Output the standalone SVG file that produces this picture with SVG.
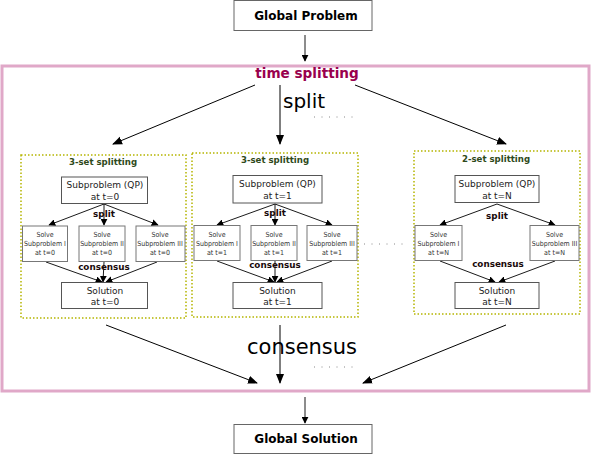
<svg xmlns="http://www.w3.org/2000/svg" width="592" height="455" viewBox="0 0 592 455">
<defs>
<marker id="ah" viewBox="0 0 10 10" refX="9" refY="5" markerWidth="7" markerHeight="7" markerUnits="userSpaceOnUse" orient="auto"><path d="M0,0 L10,5 L0,10 z" fill="#000"/></marker>
<marker id="ahL" viewBox="0 0 10 10" refX="9" refY="5" markerWidth="10" markerHeight="10" markerUnits="userSpaceOnUse" orient="auto"><path d="M0,1 L10,5 L0,9 z" fill="#000"/></marker>
<style>
text{font-family:"DejaVu Sans","Liberation Sans",sans-serif;fill:#000}
.box{fill:#fff;stroke:#555;stroke-width:1}
.sbox{fill:#fff;stroke:#777;stroke-width:1}
.big{fill:#fff;stroke:#666;stroke-width:1}
.grp{fill:none;stroke:#b5b500;stroke-width:1.5;stroke-dasharray:1.5,2}
.c{fill:none;stroke:#000;stroke-width:0.9;marker-end:url(#ah)}
.C{fill:none;stroke:#000;stroke-width:1;marker-end:url(#ahL)}
.ttl{font-size:12px;font-weight:bold}
.gt{font-size:8.6px;font-weight:bold;fill:#2f4a1a}
.sp{font-size:9px;fill:#222}
.sm{font-size:7px;font-stretch:condensed;font-family:"DejaVu Sans Condensed","DejaVu Sans",sans-serif;fill:#333}
.lb{font-size:8.8px;font-weight:bold;fill:#1a0a0a}
.dots{fill:none;stroke:#888;stroke-width:1;stroke-dasharray:1,6.5}
</style>
</defs>
<rect x="2" y="66" width="587" height="325" fill="none" stroke="#e0a8c8" stroke-width="3"/>
<text x="307" y="78" text-anchor="middle" style="font-size:13.6px;font-weight:bold;fill:#99004d">time splitting</text>
<text x="283" y="108" style="font-size:20px">split</text>
<text x="247" y="354" style="font-size:21px">consensus</text>
<line x1="314" y1="117" x2="356" y2="117" class="dots"/>
<line x1="314" y1="367" x2="356" y2="367" class="dots"/>
<line x1="364" y1="244" x2="406" y2="244" class="dots"/>

<g id="connectors">
<line x1="305" y1="35" x2="305" y2="61" class="c"/>
<line x1="255" y1="85" x2="113" y2="144" class="C"/>
<line x1="280" y1="85" x2="280" y2="144" class="C"/>
<line x1="355" y1="85" x2="506" y2="144" class="C"/>
<line x1="106" y1="325" x2="257" y2="383" class="C"/>
<line x1="280" y1="325" x2="280" y2="383" class="C"/>
<line x1="506" y1="325" x2="363" y2="383" class="C"/>
<line x1="305" y1="397" x2="305" y2="423" class="c"/>
<!-- left group -->
<line x1="104" y1="204" x2="49" y2="225" class="c"/>
<line x1="104" y1="204" x2="104" y2="225" class="c"/>
<line x1="104" y1="204" x2="158" y2="225" class="c"/>
<line x1="46" y1="262" x2="102" y2="282" class="c"/>
<line x1="104" y1="262" x2="103" y2="282" class="c"/>
<line x1="157" y1="262" x2="106" y2="282" class="c"/>
<!-- middle group -->
<line x1="275" y1="204" x2="217" y2="225" class="c"/>
<line x1="275" y1="204" x2="275" y2="225" class="c"/>
<line x1="275" y1="204" x2="332" y2="225" class="c"/>
<line x1="217" y1="261" x2="274" y2="282" class="c"/>
<line x1="275" y1="261" x2="275" y2="282" class="c"/>
<line x1="332" y1="261" x2="277" y2="282" class="c"/>
<!-- right group -->
<line x1="497" y1="204" x2="440" y2="225" class="c"/>
<line x1="497" y1="204" x2="555" y2="225" class="c"/>
<line x1="440" y1="261" x2="495" y2="282" class="c"/>
<line x1="555" y1="261" x2="499" y2="282" class="c"/>
</g>

<g id="global-problem">
<rect x="234" y="0.5" width="138" height="30" class="big"/>
<text x="306" y="20" text-anchor="middle" class="ttl">Global Problem</text>
</g>
<g id="global-solution">
<rect x="234" y="424.5" width="138" height="29" class="big"/>
<text x="306" y="443" text-anchor="middle" class="ttl">Global Solution</text>
</g>

<g id="group-t0">
<rect x="21" y="155" width="165" height="163" class="grp"/>
<text x="103" y="165" text-anchor="middle" class="gt">3-set splitting</text>
</g>
<g id="sub-t0"><rect x="61.5" y="177" width="86" height="26.5" class="box"/><text x="105" y="188" text-anchor="middle" class="sp">Subproblem (QP)</text><text x="105" y="199.5" text-anchor="middle" class="sp">at t=0</text></g>
<g id="solve1-t0"><rect x="22.5" y="226" width="45" height="35.5" class="sbox"/><text x="45" y="237" text-anchor="middle" class="sm">Solve</text><text x="45" y="246" text-anchor="middle" class="sm">Subproblem I</text><text x="45" y="255" text-anchor="middle" class="sm">at t=0</text></g>
<g id="solve2-t0"><rect x="79" y="226" width="46" height="35.5" class="sbox"/><text x="102" y="237" text-anchor="middle" class="sm">Solve</text><text x="102" y="246" text-anchor="middle" class="sm">Subproblem II</text><text x="102" y="255" text-anchor="middle" class="sm">at t=0</text></g>
<g id="solve3-t0"><rect x="136" y="226" width="49" height="35.5" class="sbox"/><text x="160" y="237" text-anchor="middle" class="sm">Solve</text><text x="160" y="246" text-anchor="middle" class="sm">Subproblem III</text><text x="160" y="255" text-anchor="middle" class="sm">at t=0</text></g>
<g id="sol-t0"><rect x="61.5" y="282.5" width="86" height="26" class="box"/><text x="105" y="293.5" text-anchor="middle" class="sp">Solution</text><text x="105" y="304.5" text-anchor="middle" class="sp">at t=0</text></g>
<text x="104" y="217" text-anchor="middle" class="lb">split</text>
<text x="104" y="270" text-anchor="middle" class="lb">consensus</text>

<g id="group-t1">
<rect x="192" y="153" width="166" height="164" class="grp"/>
<text x="275" y="163" text-anchor="middle" class="gt">3-set splitting</text>
</g>
<g id="sub-t1"><rect x="233" y="175.5" width="89" height="27.5" class="box"/><text x="277.5" y="187" text-anchor="middle" class="sp">Subproblem (QP)</text><text x="277.5" y="198.5" text-anchor="middle" class="sp">at t=1</text></g>
<g id="solve1-t1"><rect x="194" y="225.5" width="46" height="35" class="sbox"/><text x="217" y="236.5" text-anchor="middle" class="sm">Solve</text><text x="217" y="245.5" text-anchor="middle" class="sm">Subproblem I</text><text x="217" y="254.5" text-anchor="middle" class="sm">at t=1</text></g>
<g id="solve2-t1"><rect x="251" y="225.5" width="46" height="35" class="sbox"/><text x="274" y="236.5" text-anchor="middle" class="sm">Solve</text><text x="274" y="245.5" text-anchor="middle" class="sm">Subproblem II</text><text x="274" y="254.5" text-anchor="middle" class="sm">at t=1</text></g>
<g id="solve3-t1"><rect x="307" y="225.5" width="50" height="35" class="sbox"/><text x="332" y="236.5" text-anchor="middle" class="sm">Solve</text><text x="332" y="245.5" text-anchor="middle" class="sm">Subproblem III</text><text x="332" y="254.5" text-anchor="middle" class="sm">at t=1</text></g>
<g id="sol-t1"><rect x="233" y="282.5" width="89" height="26" class="box"/><text x="277.5" y="293.5" text-anchor="middle" class="sp">Solution</text><text x="277.5" y="304.5" text-anchor="middle" class="sp">at t=1</text></g>
<text x="275" y="216" text-anchor="middle" class="lb">split</text>
<text x="275" y="268" text-anchor="middle" class="lb">consensus</text>

<g id="group-tN">
<rect x="414" y="151" width="166" height="163" class="grp"/>
<text x="496" y="162" text-anchor="middle" class="gt">2-set splitting</text>
</g>
<g id="sub-tN"><rect x="455" y="175.5" width="84" height="27" class="box"/><text x="497" y="187" text-anchor="middle" class="sp">Subproblem (QP)</text><text x="497" y="198.5" text-anchor="middle" class="sp">at t=N</text></g>
<g id="solve1-tN"><rect x="415" y="225.5" width="47" height="35" class="sbox"/><text x="438.5" y="236.5" text-anchor="middle" class="sm">Solve</text><text x="438.5" y="245.5" text-anchor="middle" class="sm">Subproblem I</text><text x="438.5" y="254.5" text-anchor="middle" class="sm">at t=N</text></g>
<g id="solve3-tN"><rect x="530" y="225.5" width="49" height="35" class="sbox"/><text x="554.5" y="236.5" text-anchor="middle" class="sm">Solve</text><text x="554.5" y="245.5" text-anchor="middle" class="sm">Subproblem III</text><text x="554.5" y="254.5" text-anchor="middle" class="sm">at t=N</text></g>
<g id="sol-tN"><rect x="455" y="282.5" width="84" height="26" class="box"/><text x="497" y="293.5" text-anchor="middle" class="sp">Solution</text><text x="497" y="304.5" text-anchor="middle" class="sp">at t=N</text></g>
<text x="497" y="219" text-anchor="middle" class="lb">split</text>
<text x="498" y="267" text-anchor="middle" class="lb">consensus</text>
</svg>
